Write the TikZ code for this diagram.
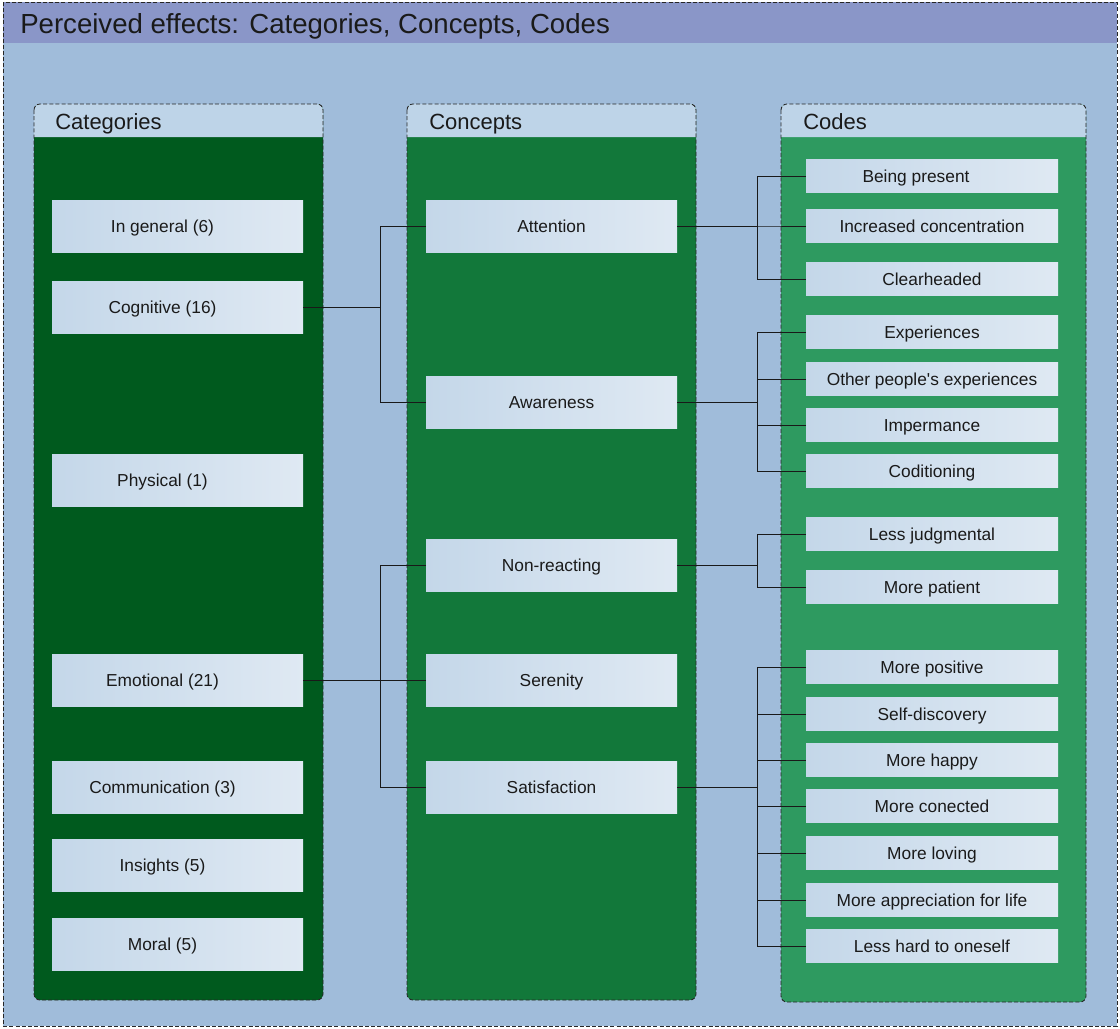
\documentclass[tikz,border=0pt]{standalone}
\usepackage{fontspec}
\setmainfont{Liberation Sans}
\newfontfamily\sansplain{Liberation Sans}
\definecolor{bgc}{HTML}{A0BCDA}
\definecolor{titlec}{HTML}{8A96C8}
\definecolor{hdrc}{HTML}{BED4E8}
\definecolor{catc}{HTML}{005A1E}
\definecolor{conc}{HTML}{12783A}
\definecolor{codc}{HTML}{2E9A60}
\definecolor{boxL}{HTML}{C4D7E9}
\definecolor{boxR}{HTML}{DFE9F3}
\definecolor{txt}{HTML}{1A1A1A}
\begin{document}
\begin{tikzpicture}[x=0.75pt,y=-0.75pt,
  lbl/.style={font=\sansplain\fontsize{13}{15}\selectfont, text=txt, text height=9.3pt, text depth=0pt},
  anybox/.style={lbl, left color=boxL, right color=boxR, inner sep=0pt},
  catbox/.style={anybox, minimum width=188.25pt, minimum height=39pt, execute at begin node={\hspace*{-22.5pt}}},
  conbox/.style={anybox, minimum width=188.25pt, minimum height=39pt},
  codebox/.style={anybox, minimum width=189pt, minimum height=24.75pt},
  link/.style={draw=black!90, line width=0.75pt},
  frame/.style={draw=black!85, dash pattern=on 3pt off 1.6pt, line width=0.65pt},
  hdr/.style={font=\fontsize{16.5}{19}\selectfont, text=txt, anchor=base west, inner sep=0pt}
]
\useasboundingbox (0,0) rectangle (1120,1028);
\fill[white] (0,0) rectangle (1120,1028);
% outer frame
\fill[bgc] (3,2) rectangle (1117,1026);
\fill[titlec] (3,2) rectangle (1117,43);
\draw[frame] (3,2) rectangle (1117,1026);
\node[anchor=base west, inner sep=0pt, font=\fontsize{20.7}{24}\selectfont, text=txt] (title) at (20,33.5) {Perceived effects: Categories, Concepts, Codes};
% columns
\foreach \xa/\xb/\yb/\col in {34/323/1000/catc, 407/696/1000/conc, 781/1086/1002/codc}{
  \fill[\col, rounded corners=4.5pt] (\xa,104) rectangle (\xb,\yb);
  \fill[hdrc] (\xa,137) [rounded corners=4.5pt] -- (\xa,104) -- (\xb,104) [sharp corners] -- (\xb,137) -- cycle;
  \draw[frame, rounded corners=4.5pt] (\xa,104) rectangle (\xb,\yb);
}
\node[hdr] (hcat) at (55,129.5) {Categories};
\node[hdr] (hcon) at (429,129.5) {Concepts};
\node[hdr] (hcod) at (803,129.5) {Codes};
% categories
\node[catbox] (gen) at (177.5,226) {In general (6)};
\node[catbox] (cog) at (177.5,307) {Cognitive (16)};
\node[catbox] (phy) at (177.5,480) {Physical (1)};
\node[catbox] (emo) at (177.5,680) {Emotional (21)};
\node[catbox] (com) at (177.5,787) {Communication (3)};
\node[catbox] (ins) at (177.5,865) {Insights (5)};
\node[catbox] (mor) at (177.5,944) {Moral (5)};
% concepts
\node[conbox] (att) at (551.5,226) {Attention};
\node[conbox] (awa) at (551.5,402) {Awareness};
\node[conbox] (non) at (551.5,565) {Non-reacting};
\node[conbox] (ser) at (551.5,680) {Serenity};
\node[conbox] (sat) at (551.5,787) {Satisfaction};
% codes
\node[codebox] (c1) at (932,176) {\hspace*{-24pt}Being present};
\node[codebox] (c2) at (932,226) {Increased concentration};
\node[codebox] (c3) at (932,279) {Clearheaded};
\node[codebox] (c4) at (932,332) {Experiences};
\node[codebox] (c5) at (932,379) {Other people's experiences};
\node[codebox] (c6) at (932,425) {Impermance};
\node[codebox] (c7) at (932,471) {Coditioning};
\node[codebox] (c8) at (932,534) {Less judgmental};
\node[codebox] (c9) at (932,587) {More patient};
\node[codebox] (c10) at (932,667) {More positive};
\node[codebox] (c11) at (932,714) {Self-discovery};
\node[codebox] (c12) at (932,760) {More happy};
\node[codebox] (c13) at (932,806) {More conected};
\node[codebox] (c14) at (932,853) {More loving};
\node[codebox] (c15) at (932,900) {More appreciation for life};
\node[codebox] (c16) at (932,946) {Less hard to oneself};
% connectors
\coordinate (busA) at (380,0);
\coordinate (busB) at (757,0);
\foreach \t in {att,awa} \draw[link] (cog.east) -- (cog.east -| busA) |- (\t.west);
\foreach \t in {non,ser,sat} \draw[link] (emo.east) -- (emo.east -| busA) |- (\t.west);
\foreach \t in {c1,c2,c3} \draw[link] (att.east) -- (att.east -| busB) |- (\t.west);
\foreach \t in {c4,c5,c6,c7} \draw[link] (awa.east) -- (awa.east -| busB) |- (\t.west);
\foreach \t in {c8,c9} \draw[link] (non.east) -- (non.east -| busB) |- (\t.west);
\foreach \t in {c10,c11,c12,c13,c14,c15,c16} \draw[link] (sat.east) -- (sat.east -| busB) |- (\t.west);
\end{tikzpicture}
\end{document}
